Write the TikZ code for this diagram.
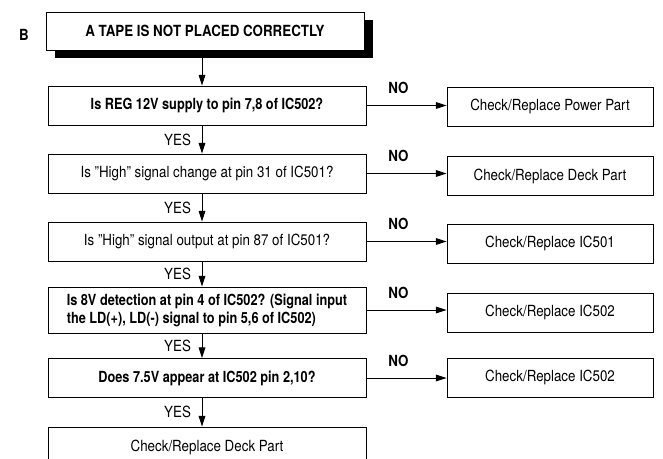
\documentclass[tikz,border=0pt]{standalone}
\usepackage{fontspec}
\setmainfont{TeX Gyre Heros}[FakeStretch=0.87]
\usetikzlibrary{arrows.meta,positioning,shadows}
\newcommand{\dq}{\char"22\relax}
\tikzset{
  qbox/.style={draw,line width=0.65pt,minimum width=238.5pt,minimum height=29.25pt,align=center,inner sep=2pt,font=\fontsize{11.5}{13}\selectfont},
  qbold/.style={qbox,font=\fontsize{11.5}{13.5}\selectfont\bfseries\addfontfeature{FakeStretch=0.83}},
  rbox/.style={draw,line width=0.65pt,minimum width=154.5pt,minimum height=29.25pt,align=center,font=\fontsize{11.5}{13}\selectfont},
  headbox/.style={draw,line width=0.65pt,fill=white,minimum width=238.5pt,minimum height=28.5pt,font=\fontsize{11.5}{13}\selectfont\bfseries,
    drop shadow={shadow xshift=6.5pt,shadow yshift=-6pt,fill=black,opacity=1}},
  arrow/.style={-{Triangle[length=8pt,width=5pt]},line width=0.65pt},
  yeslabel/.style={font=\fontsize{11.5}{12}\selectfont,inner sep=1pt},
  nolabel/.style={font=\fontsize{11.5}{12}\selectfont\bfseries,inner sep=1pt}
}

\begin{document}
\begin{tikzpicture}[x=0.75pt,y=-0.75pt]
  \useasboundingbox (0,0) rectangle (663,458);

  \node[font=\fontsize{11.5}{12}\selectfont\bfseries] (lb) at (24,35) {B};
  \node[headbox] (head) at (205,31) {A TAPE IS NOT PLACED CORRECTLY};

  % questions
  \node[qbold] (q1) at (207,105.5) {Is REG 12V supply to pin 7,8 of IC502?};
  \node[qbox] (q2) at (207,173.5) {Is \dq High\dq{} signal change at pin 31 of IC501?};
  \node[qbox] (q3) at (207,241.5) {Is \dq High\dq{} signal output at pin 87 of IC501?};
  \node[qbold,minimum height=34.5pt,align=left] (q4) at (207,310)
    {Is 8V detection at pin 4 of IC502? (Signal input\\the LD(+), LD(-) signal to pin 5,6 of IC502)};
  \node[qbold] (q5) at (207,378) {Does 7.5V appear at IC502 pin 2,10?};
  \node[qbox,minimum height=30pt] (q6) at (207,447) {Check/Replace Deck Part};

  % results
  \node[rbox] (r1) at (550,106.5) {Check/Replace Power Part};
  \node[rbox] (r2) at (550,176) {Check/Replace Deck Part};
  \node[rbox] (r3) at (550,243.5) {Check/Replace IC501};
  \node[rbox] (r4) at (550,312.5) {Check/Replace IC502};
  \node[rbox] (r5) at (550,377.5) {Check/Replace IC502};

  \coordinate (ax) at (202,0);

  \draw[arrow] (head.south -| ax) -- (q1.north -| ax);
  \draw[arrow] (q1.south -| ax) -- node[yeslabel,left=7pt] {YES} (q2.north -| ax);
  \draw[arrow] (q2.south -| ax) -- node[yeslabel,left=7pt] {YES} (q3.north -| ax);
  \draw[arrow] (q3.south -| ax) -- node[yeslabel,left=7pt] {YES} (q4.north -| ax);
  \draw[arrow] (q4.south -| ax) -- node[yeslabel,left=7pt] {YES} (q5.north -| ax);
  \draw[arrow] (q5.south -| ax) -- node[yeslabel,left=7pt] {YES} (q6.north -| ax);

  \draw[arrow] (q1.east) -- node[nolabel,pos=0.4,above=7.5pt] {NO} (q1.east -| r1.west);
  \draw[arrow] (q2.east) -- node[nolabel,pos=0.4,above=7.5pt] {NO} (q2.east -| r2.west);
  \draw[arrow] (q3.east) -- node[nolabel,pos=0.4,above=7.5pt] {NO} (q3.east -| r3.west);
  \draw[arrow] (q4.east) -- node[nolabel,pos=0.4,above=7.5pt] {NO} (q4.east -| r4.west);
  \draw[arrow] (q5.east) -- node[nolabel,pos=0.4,above=7.5pt] {NO} (q5.east -| r5.west);
\end{tikzpicture}
\end{document}
